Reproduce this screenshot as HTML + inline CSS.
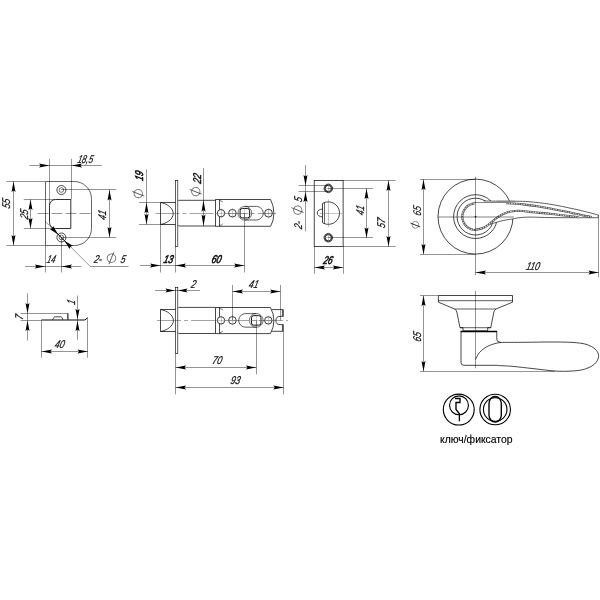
<!DOCTYPE html>
<html lang="ru">
<head>
<meta charset="utf-8">
<title>Чертёж: ручка дверная, защёлка, ключ/фиксатор</title>
<style>
html,body{margin:0;padding:0;background:#fff;}
body{width:600px;height:600px;overflow:hidden;}
svg{display:block;font-family:"Liberation Sans",sans-serif;filter:grayscale(1);}
</style>
</head>
<body>
<svg width="600" height="600" viewBox="0 0 600 600">
<rect width="600" height="600" fill="#fff"/>
<!-- strike plate front -->
<path d="M45.5,181.5 H73.75 A17.25,17.25 0 0 1 91.5,198.5 V228.5 A17,17 0 0 1 74.5,245.5 H45.5 Z" stroke="#000" stroke-width="0.612" fill="none" />
<path d="M70.8,199.5 H55.5 A6,6 0 0 0 49.5,205.5 V222.5 A6,6 0 0 0 55.5,228.5 H70.8 Z" stroke="#000" stroke-width="0.81" fill="none" />
<circle cx="61.4" cy="190" r="4.5" stroke="#000" stroke-width="0.72" fill="none" />
<circle cx="61.4" cy="190" r="2.3" stroke="#000" stroke-width="0.54" fill="none" />
<circle cx="61.4" cy="237.5" r="4.5" stroke="#000" stroke-width="0.72" fill="none" />
<circle cx="61.4" cy="237.5" r="2.3" stroke="#000" stroke-width="0.54" fill="none" />
<line x1="37.5" y1="213.5" x2="92.5" y2="213.5" stroke="#000" stroke-width="0.42" stroke-dasharray="11 3"/>
<line x1="6.25" y1="181.5" x2="45" y2="181.5" stroke="#000" stroke-width="0.42"/>
<line x1="6.25" y1="245.5" x2="45" y2="245.5" stroke="#000" stroke-width="0.42"/>
<line x1="13.5" y1="181.25" x2="13.5" y2="245.25" stroke="#000" stroke-width="0.42"/>
<polygon points="13.50,181.50 15.50,192.00 13.50,190.43 11.50,192.00" fill="#000"/>
<polygon points="13.50,245.50 11.50,235.00 13.50,236.57 15.50,235.00" fill="#000"/>
<text transform="translate(10.3,204.25) rotate(-90) skewX(-14) scale(0.76,1)" font-size="11.3" font-style="italic" text-anchor="middle" fill="#111" stroke="#111" stroke-width="0.22">55</text>
<line x1="23.75" y1="199.5" x2="55" y2="199.5" stroke="#000" stroke-width="0.42"/>
<line x1="23.75" y1="228.5" x2="55" y2="228.5" stroke="#000" stroke-width="0.42"/>
<line x1="30.5" y1="199.4" x2="30.5" y2="228.5" stroke="#000" stroke-width="0.42"/>
<polygon points="30.50,199.50 32.50,210.00 30.50,208.43 28.50,210.00" fill="#000"/>
<polygon points="30.50,228.50 28.50,218.00 30.50,219.57 32.50,218.00" fill="#000"/>
<text transform="translate(27.8,215.1) rotate(-90) skewX(-14) scale(0.76,1)" font-size="11.3" font-style="italic" text-anchor="middle" fill="#111" stroke="#111" stroke-width="0.22">25</text>
<line x1="61" y1="189.5" x2="116.25" y2="189.5" stroke="#000" stroke-width="0.42"/>
<line x1="61" y1="237.5" x2="116.25" y2="237.5" stroke="#000" stroke-width="0.42"/>
<line x1="109.5" y1="189.75" x2="109.5" y2="237.25" stroke="#000" stroke-width="0.42"/>
<polygon points="109.50,190.00 111.50,200.50 109.50,198.93 107.50,200.50" fill="#000"/>
<polygon points="109.50,237.50 107.50,227.00 109.50,228.57 111.50,227.00" fill="#000"/>
<text transform="translate(106.1,215.8) rotate(-90) skewX(-14) scale(0.76,1)" font-size="11.3" font-style="italic" text-anchor="middle" fill="#111" stroke="#111" stroke-width="0.22">41</text>
<line x1="49.5" y1="158.75" x2="49.5" y2="205" stroke="#000" stroke-width="0.42"/>
<line x1="71.5" y1="158.75" x2="71.5" y2="199.4" stroke="#000" stroke-width="0.42"/>
<line x1="29.4" y1="165.5" x2="101.9" y2="165.5" stroke="#000" stroke-width="0.42"/>
<polygon points="49.50,165.50 39.00,167.50 40.58,165.50 39.00,163.50" fill="#000"/>
<polygon points="71.50,165.50 82.00,163.50 80.42,165.50 82.00,167.50" fill="#000"/>
<text transform="translate(84.6,162.5) rotate(0) skewX(-14) scale(0.7,1)" font-size="11.3" font-style="italic" text-anchor="middle" fill="#111" stroke="#111" stroke-width="0.22">18,5</text>
<line x1="45.5" y1="245.25" x2="45.5" y2="272.5" stroke="#000" stroke-width="0.42"/>
<line x1="61.5" y1="237.25" x2="61.5" y2="272.5" stroke="#000" stroke-width="0.42"/>
<line x1="25" y1="266.5" x2="81.25" y2="266.5" stroke="#000" stroke-width="0.42"/>
<polygon points="45.30,266.50 34.80,268.50 36.38,266.50 34.80,264.50" fill="#000"/>
<polygon points="61.50,266.50 72.00,264.50 70.42,266.50 72.00,268.50" fill="#000"/>
<text transform="translate(50.6,262.5) rotate(0) skewX(-14) scale(0.68,1)" font-size="11.3" font-style="italic" text-anchor="middle" fill="#111" stroke="#111" stroke-width="0.22">14</text>
<line x1="45" y1="221.25" x2="90" y2="266.25" stroke="#000" stroke-width="0.42"/>
<line x1="90" y1="266.5" x2="128.5" y2="266.5" stroke="#000" stroke-width="0.42"/>
<polygon points="58.10,234.35 49.76,229.26 52.39,228.64 53.01,226.01" fill="#000"/>
<polygon points="64.50,240.75 72.84,245.84 70.21,246.46 69.59,249.09" fill="#000"/>
<line x1="51.5" y1="227.75" x2="71" y2="247.25" stroke="#000" stroke-width="0.9"/>
<text transform="translate(97.2,262.5) rotate(0) skewX(-14) scale(0.76,1)" font-size="11.3" font-style="italic" text-anchor="middle" fill="#111" stroke="#111" stroke-width="0.22">2-</text>
<text transform="translate(111.5,258.1) rotate(-18) translate(0,4.64)" font-family="DejaVu Sans, sans-serif" font-size="13.06" text-anchor="middle" fill="#6e6e6e">∅</text>
<line x1="108.95" y1="264.4" x2="114.05" y2="251.8" stroke="#000" stroke-width="0.4"/>
<text transform="translate(122.5,262.5) rotate(0) skewX(-14) scale(0.76,1)" font-size="11.3" font-style="italic" text-anchor="middle" fill="#111" stroke="#111" stroke-width="0.22">5</text>
<!-- latch 60 -->
<rect x="175.5" y="180.5" width="2.3" height="66" rx="0" ry="0" stroke="#000" stroke-width="0.63" fill="none"/>
<path d="M175.5,202.5 H160.5 V224.5 H175.5" stroke="#000" stroke-width="0.72" fill="none" />
<path d="M160.5,202.5 C167,203.6 173.2,208 173.2,213.5 C173.2,219 167,223.4 160.5,224.5" stroke="#000" stroke-width="0.72" fill="none" />
<path d="M178,201.2 L178.8,200.3 H215.5 M178,225.2 L178.8,226 H215.5" stroke="#000" stroke-width="0.72" fill="none" />
<path d="M215.5,199.5 H270.6 Q273.9,206 273.9,213.2 Q273.9,220.5 270.6,226.3 H215.5 Z" stroke="#000" stroke-width="0.72" fill="none" />
<line x1="219.5" y1="199.5" x2="219.5" y2="226.3" stroke="#000" stroke-width="0.7"/>
<path d="M222.8,202.2 Q222,200.6 219.8,200.6 M222.8,223.8 Q222,225.3 219.8,225.3" stroke="#000" stroke-width="0.54" fill="none" />
<line x1="155.6" y1="213.5" x2="276" y2="213.5" stroke="#333" stroke-width="0.45" stroke-dasharray="24 3 4 3"/>
<circle cx="221" cy="213.2" r="3.7" stroke="#000" stroke-width="0.765" fill="#fff" />
<line x1="216.1" y1="213.5" x2="225.9" y2="213.5" stroke="#777" stroke-width="0.4"/>
<line x1="221.5" y1="208.29999999999998" x2="221.5" y2="218.1" stroke="#777" stroke-width="0.4"/>
<circle cx="232.4" cy="213.2" r="3.8" stroke="#000" stroke-width="0.765" fill="none" />
<line x1="227.4" y1="213.5" x2="237.4" y2="213.5" stroke="#777" stroke-width="0.4"/>
<line x1="232.5" y1="208.2" x2="232.5" y2="218.2" stroke="#777" stroke-width="0.4"/>
<circle cx="268.5" cy="213.2" r="3.9" stroke="#000" stroke-width="0.765" fill="none" />
<line x1="263.4" y1="213.5" x2="273.6" y2="213.5" stroke="#777" stroke-width="0.4"/>
<line x1="268.5" y1="208.1" x2="268.5" y2="218.29999999999998" stroke="#777" stroke-width="0.4"/>
<circle cx="244.85" cy="213.2" r="6.9" stroke="#000" stroke-width="0.54" fill="none" />
<rect x="240.1" y="208.45" width="9.5" height="9.5" rx="2.2" ry="2.2" stroke="#000" stroke-width="0.945" fill="none"/>
<path d="M244.85,206.4 H256.5 A6.8,6.8 0 0 1 256.5,220 H244.85" stroke="#000" stroke-width="0.63" fill="none" />
<line x1="238.85" y1="213.5" x2="250.85" y2="213.5" stroke="#888" stroke-width="0.4"/>
<line x1="244.5" y1="207.2" x2="244.5" y2="219.2" stroke="#888" stroke-width="0.4"/>
<line x1="139" y1="202.5" x2="160.4" y2="202.5" stroke="#000" stroke-width="0.42"/>
<line x1="139" y1="224.5" x2="160.4" y2="224.5" stroke="#000" stroke-width="0.42"/>
<line x1="146.5" y1="169.4" x2="146.5" y2="224.4" stroke="#000" stroke-width="0.42"/>
<polygon points="146.50,202.50 148.50,213.20 146.50,211.59 144.50,213.20" fill="#000"/>
<polygon points="146.50,224.50 144.50,213.80 146.50,215.41 148.50,213.80" fill="#000"/>
<text transform="translate(143.1,176.5) rotate(-90) skewX(-14) scale(0.76,1)" font-size="11.3" font-style="italic" text-anchor="middle" fill="#111" stroke="#111" stroke-width="0.6">19</text>
<text transform="translate(138.1,193.6) rotate(-108) translate(0,4.54)" font-family="DejaVu Sans, sans-serif" font-size="12.78" text-anchor="middle" fill="#6e6e6e">∅</text>
<line x1="144.31" y1="196.11" x2="131.89" y2="191.09" stroke="#000" stroke-width="0.4"/>
<line x1="203.5" y1="168" x2="203.5" y2="226.1" stroke="#000" stroke-width="0.42"/>
<polygon points="203.50,200.30 205.50,211.80 203.50,210.08 201.50,211.80" fill="#000"/>
<polygon points="203.50,226.00 201.50,214.50 203.50,216.22 205.50,214.50" fill="#000"/>
<text transform="translate(200.9,179.3) rotate(-90) skewX(-14) scale(0.76,1)" font-size="11.3" font-style="italic" text-anchor="middle" fill="#111" stroke="#111" stroke-width="0.5">22</text>
<text transform="translate(195.6,191.7) rotate(-108) translate(0,4.54)" font-family="DejaVu Sans, sans-serif" font-size="12.78" text-anchor="middle" fill="#6e6e6e">∅</text>
<line x1="201.81" y1="194.21" x2="189.39" y2="189.19" stroke="#000" stroke-width="0.4"/>
<line x1="160.5" y1="224.4" x2="160.5" y2="272.5" stroke="#000" stroke-width="0.42"/>
<line x1="175.5" y1="246.25" x2="175.5" y2="272.5" stroke="#000" stroke-width="0.42"/>
<line x1="244.5" y1="213.2" x2="244.5" y2="272.5" stroke="#000" stroke-width="0.42"/>
<line x1="140" y1="265.5" x2="244.6" y2="265.5" stroke="#000" stroke-width="0.42"/>
<polygon points="160.50,265.50 150.00,267.50 151.57,265.50 150.00,263.50" fill="#000"/>
<polygon points="175.50,265.50 186.00,263.50 184.43,265.50 186.00,267.50" fill="#000"/>
<polygon points="244.60,265.50 234.10,267.50 235.67,265.50 234.10,263.50" fill="#000"/>
<text transform="translate(167.8,262.5) rotate(0) skewX(-14) scale(0.76,1)" font-size="11.3" font-style="italic" text-anchor="middle" fill="#111" stroke="#111" stroke-width="0.65">13</text>
<text transform="translate(215.8,262.5) rotate(0) skewX(-14) scale(0.76,1)" font-size="11.3" font-style="italic" text-anchor="middle" fill="#111" stroke="#111" stroke-width="0.65">60</text>
<!-- face plate -->
<rect x="314.2" y="180.4" width="28.9" height="66" rx="0" ry="0" stroke="#000" stroke-width="0.72" fill="none"/>
<circle cx="328.3" cy="188.4" r="3.65" stroke="#777" stroke-width="1.8" fill="none" />
<circle cx="328.3" cy="188.4" r="3.1" stroke="#222" stroke-width="0.81" fill="none" />
<circle cx="328.3" cy="188.4" r="4.2" stroke="#222" stroke-width="0.81" fill="none" stroke-dasharray="1.6 0.6"/>
<line x1="323.1" y1="188.5" x2="333.5" y2="188.5" stroke="#777" stroke-width="0.4"/>
<line x1="328.5" y1="183.20000000000002" x2="328.5" y2="193.6" stroke="#777" stroke-width="0.4"/>
<circle cx="328.3" cy="237.7" r="3.65" stroke="#777" stroke-width="1.8" fill="none" />
<circle cx="328.3" cy="237.7" r="3.1" stroke="#222" stroke-width="0.81" fill="none" />
<circle cx="328.3" cy="237.7" r="4.2" stroke="#222" stroke-width="0.81" fill="none" stroke-dasharray="1.6 0.6"/>
<line x1="323.1" y1="237.5" x2="333.5" y2="237.5" stroke="#777" stroke-width="0.4"/>
<line x1="328.5" y1="232.5" x2="328.5" y2="242.89999999999998" stroke="#777" stroke-width="0.4"/>
<path d="M322.5,203.4 A11.3,11.3 0 1 1 322.5,222.8 Z" stroke="#000" stroke-width="0.72" fill="none" />
<line x1="324.5" y1="202.6" x2="324.5" y2="223.6" stroke="#000" stroke-width="0.6"/>
<path d="M322.5,209.1 A5.3,3.9 0 1 0 322.5,216.9" stroke="#000" stroke-width="0.72" fill="none" />
<line x1="328.5" y1="199.5" x2="328.5" y2="227" stroke="#666" stroke-width="0.4"/>
<line x1="320" y1="213.5" x2="342" y2="213.5" stroke="#666" stroke-width="0.4"/>
<line x1="298.5" y1="185.5" x2="328" y2="185.5" stroke="#000" stroke-width="0.42"/>
<line x1="298.5" y1="191.5" x2="328" y2="191.5" stroke="#000" stroke-width="0.42"/>
<line x1="305.5" y1="165" x2="305.5" y2="231.25" stroke="#000" stroke-width="0.42"/>
<polygon points="305.50,185.50 303.50,175.00 305.50,176.57 307.50,175.00" fill="#000"/>
<polygon points="305.50,191.50 307.50,202.00 305.50,200.43 303.50,202.00" fill="#000"/>
<text transform="translate(302.0,200.0) rotate(-90) skewX(-14) scale(0.76,1)" font-size="11.3" font-style="italic" text-anchor="middle" fill="#111" stroke="#111" stroke-width="0.22">5</text>
<text transform="translate(297.6,210) rotate(-108) translate(0,4.54)" font-family="DejaVu Sans, sans-serif" font-size="12.78" text-anchor="middle" fill="#6e6e6e">∅</text>
<line x1="303.81" y1="212.51" x2="291.39" y2="207.49" stroke="#000" stroke-width="0.4"/>
<text transform="translate(302.0,225.8) rotate(-90) skewX(-14) scale(0.76,1)" font-size="11.3" font-style="italic" text-anchor="middle" fill="#111" stroke="#111" stroke-width="0.22">2-</text>
<line x1="328.4" y1="188.5" x2="373" y2="188.5" stroke="#000" stroke-width="0.42"/>
<line x1="328.4" y1="237.5" x2="373" y2="237.5" stroke="#000" stroke-width="0.42"/>
<line x1="366.5" y1="188.5" x2="366.5" y2="237.75" stroke="#000" stroke-width="0.42"/>
<polygon points="366.50,188.50 368.50,199.00 366.50,197.43 364.50,199.00" fill="#000"/>
<polygon points="366.50,238.00 364.50,227.50 366.50,229.07 368.50,227.50" fill="#000"/>
<text transform="translate(363.5,211.1) rotate(-90) skewX(-14) scale(0.76,1)" font-size="11.3" font-style="italic" text-anchor="middle" fill="#111" stroke="#111" stroke-width="0.22">41</text>
<line x1="343.1" y1="180.5" x2="395.6" y2="180.5" stroke="#000" stroke-width="0.42"/>
<line x1="343.1" y1="246.5" x2="395.6" y2="246.5" stroke="#000" stroke-width="0.42"/>
<line x1="388.5" y1="180.25" x2="388.5" y2="246.25" stroke="#000" stroke-width="0.42"/>
<polygon points="388.50,180.50 390.50,191.00 388.50,189.43 386.50,191.00" fill="#000"/>
<polygon points="388.50,246.50 386.50,236.00 388.50,237.57 390.50,236.00" fill="#000"/>
<text transform="translate(385.4,223.8) rotate(-90) skewX(-14) scale(0.76,1)" font-size="11.3" font-style="italic" text-anchor="middle" fill="#111" stroke="#111" stroke-width="0.22">57</text>
<line x1="314.5" y1="246.25" x2="314.5" y2="273.75" stroke="#000" stroke-width="0.42"/>
<line x1="343.5" y1="246.25" x2="343.5" y2="273.75" stroke="#000" stroke-width="0.42"/>
<line x1="314.4" y1="267.5" x2="343.1" y2="267.5" stroke="#000" stroke-width="0.42"/>
<polygon points="314.50,267.50 325.00,265.50 323.43,267.50 325.00,269.50" fill="#000"/>
<polygon points="343.30,267.50 332.80,269.50 334.38,267.50 332.80,265.50" fill="#000"/>
<text transform="translate(327.3,263.75) rotate(0) skewX(-14) scale(0.74,1)" font-size="11.3" font-style="italic" text-anchor="middle" fill="#111" stroke="#111" stroke-width="0.6">26</text>
<!-- handle top view -->
<circle cx="475.5" cy="216.6" r="37.5" stroke="#000" stroke-width="0.72" fill="none" />
<circle cx="475.5" cy="216.6" r="21.9" stroke="#000" stroke-width="0.72" fill="none" />
<circle cx="475.5" cy="216.6" r="18.4" stroke="#000" stroke-width="0.72" fill="none" />
<path d="M483.50,201.00 C486.25,201.03 494.47,201.16 500.00,201.20 C505.53,201.24 511.87,201.17 516.70,201.25 C521.53,201.33 523.45,201.21 529.00,201.70 C534.55,202.19 542.33,202.95 550.00,204.20 C557.67,205.45 567.22,207.47 575.00,209.20 C582.78,210.93 592.82,213.53 596.70,214.60 C600.58,215.67 598.03,215.43 598.30,215.60 L598.30,217.70 C594.42,217.70 583.05,217.72 575.00,217.70 C566.95,217.68 557.50,217.70 550.00,217.60 C542.50,217.50 535.21,217.07 530.00,217.10 C524.79,217.12 521.62,217.45 518.75,217.75 C515.88,218.05 515.25,218.46 512.75,218.90 C510.25,219.34 506.50,219.82 503.75,220.40 C501.00,220.98 498.12,221.88 496.25,222.40 C494.38,222.92 493.71,223.13 492.50,223.50 C491.29,223.87 489.58,224.42 489.00,224.60 L478,216 Z" stroke="none" stroke-width="0.0" fill="#fff" />
<path d="M483.50,201.00 C486.25,201.03 494.47,201.16 500.00,201.20 C505.53,201.24 511.87,201.17 516.70,201.25 C521.53,201.33 523.45,201.21 529.00,201.70 C534.55,202.19 542.33,202.95 550.00,204.20 C557.67,205.45 567.22,207.47 575.00,209.20 C582.78,210.93 592.82,213.53 596.70,214.60 C600.58,215.67 598.03,215.43 598.30,215.60" stroke="#000" stroke-width="0.63" fill="none" />
<path d="M598.3,215.6 V217.7" stroke="#000" stroke-width="0.81" fill="none" />
<path d="M598.30,217.70 C594.42,217.70 583.05,217.72 575.00,217.70 C566.95,217.68 557.50,217.70 550.00,217.60 C542.50,217.50 535.21,217.07 530.00,217.10 C524.79,217.12 521.62,217.45 518.75,217.75 C515.88,218.05 515.25,218.46 512.75,218.90 C510.25,219.34 506.50,219.82 503.75,220.40 C501.00,220.98 498.12,221.88 496.25,222.40 C494.38,222.92 493.71,223.13 492.50,223.50 C491.29,223.87 489.58,224.42 489.00,224.60" stroke="#000" stroke-width="0.63" fill="none" />
<path d="M474.35,203.55 C473.81,203.67 472.15,203.89 471.11,204.25 C470.08,204.61 469.06,205.13 468.15,205.74 C467.24,206.35 466.38,207.09 465.65,207.91 C464.92,208.73 464.28,209.67 463.77,210.64 C463.27,211.61 462.88,212.68 462.63,213.75 C462.39,214.82 462.28,215.95 462.30,217.05 C462.33,218.14 462.51,219.27 462.81,220.32 C463.11,221.37 463.55,222.42 464.11,223.37 C464.66,224.31 465.35,225.22 466.13,225.99 C466.90,226.77 467.79,227.47 468.73,228.03 C469.68,228.60 470.72,229.05 471.77,229.36 C472.82,229.67 472.97,230.20 475.04,229.89 C477.11,229.58 481.71,228.60 484.20,227.50 C486.69,226.40 487.92,224.90 490.00,223.30 C492.08,221.70 494.75,219.33 496.70,217.90 C498.65,216.47 499.90,215.65 501.70,214.70 C503.50,213.75 505.28,212.82 507.50,212.20 C509.72,211.58 512.50,211.20 515.00,211.00 C517.50,210.80 520.00,210.85 522.50,211.00 C525.00,211.15 527.50,211.63 530.00,211.90 C532.50,212.17 534.17,212.28 537.50,212.60 C540.83,212.92 545.13,213.27 550.00,213.80 C554.87,214.33 561.87,215.22 566.70,215.80 C571.53,216.38 576.95,217.05 579.00,217.30" stroke="#4a4a4a" stroke-width="2.16" fill="none" />
<path d="M474.35,203.55 C473.81,203.67 472.15,203.89 471.11,204.25 C470.08,204.61 469.06,205.13 468.15,205.74 C467.24,206.35 466.38,207.09 465.65,207.91 C464.92,208.73 464.28,209.67 463.77,210.64 C463.27,211.61 462.88,212.68 462.63,213.75 C462.39,214.82 462.28,215.95 462.30,217.05 C462.33,218.14 462.51,219.27 462.81,220.32 C463.11,221.37 463.55,222.42 464.11,223.37 C464.66,224.31 465.35,225.22 466.13,225.99 C466.90,226.77 467.79,227.47 468.73,228.03 C469.68,228.60 470.72,229.05 471.77,229.36 C472.82,229.67 472.97,230.20 475.04,229.89 C477.11,229.58 481.71,228.60 484.20,227.50 C486.69,226.40 487.92,224.90 490.00,223.30 C492.08,221.70 494.75,219.33 496.70,217.90 C498.65,216.47 499.90,215.65 501.70,214.70 C503.50,213.75 505.28,212.82 507.50,212.20 C509.72,211.58 512.50,211.20 515.00,211.00 C517.50,210.80 520.00,210.85 522.50,211.00 C525.00,211.15 527.50,211.63 530.00,211.90 C532.50,212.17 534.17,212.28 537.50,212.60 C540.83,212.92 545.13,213.27 550.00,213.80 C554.87,214.33 561.87,215.22 566.70,215.80 C571.53,216.38 576.95,217.05 579.00,217.30" stroke="#d8d8d8" stroke-width="1.08" fill="none" stroke-dasharray="1.7 0.8"/>
<path d="M506.00,203.20 C507.67,203.28 512.83,203.47 516.00,203.70 C519.17,203.93 521.42,204.17 525.00,204.60 C528.58,205.03 533.33,205.60 537.50,206.25 C541.67,206.90 545.13,207.59 550.00,208.50 C554.87,209.41 561.15,210.52 566.70,211.70 C572.25,212.88 579.08,214.72 583.30,215.60 C587.52,216.48 590.55,216.77 592.00,217.00" stroke="#4a4a4a" stroke-width="2.07" fill="none" />
<path d="M506.00,203.20 C507.67,203.28 512.83,203.47 516.00,203.70 C519.17,203.93 521.42,204.17 525.00,204.60 C528.58,205.03 533.33,205.60 537.50,206.25 C541.67,206.90 545.13,207.59 550.00,208.50 C554.87,209.41 561.15,210.52 566.70,211.70 C572.25,212.88 579.08,214.72 583.30,215.60 C587.52,216.48 590.55,216.77 592.00,217.00" stroke="#d8d8d8" stroke-width="0.99" fill="none" stroke-dasharray="1.7 0.8"/>
<line x1="473.5" y1="202.5" x2="506" y2="202.5" stroke="#333" stroke-width="0.6"/>
<line x1="497" y1="201.5" x2="515" y2="201.5" stroke="#8a8a8a" stroke-width="1.6"/>
<line x1="475.5" y1="176.7" x2="475.5" y2="275" stroke="#000" stroke-width="0.42"/>
<line x1="438" y1="217.0" x2="514" y2="217.0" stroke="#000" stroke-width="0.5"/>
<circle cx="475.5" cy="216.6" r="0.7" stroke="#000" stroke-width="0.27" fill="#000" />
<line x1="420" y1="179.5" x2="475.5" y2="179.5" stroke="#000" stroke-width="0.42"/>
<line x1="420" y1="254.5" x2="475.5" y2="254.5" stroke="#000" stroke-width="0.42"/>
<line x1="423.5" y1="179.2" x2="423.5" y2="254.2" stroke="#000" stroke-width="0.42"/>
<polygon points="423.50,179.50 425.50,190.00 423.50,188.43 421.50,190.00" fill="#000"/>
<polygon points="423.50,254.50 421.50,244.00 423.50,245.57 425.50,244.00" fill="#000"/>
<text transform="translate(420.8,211.5) rotate(-90) skewX(-14) scale(0.76,1)" font-size="11.3" font-style="italic" text-anchor="middle" fill="#111" stroke="#111" stroke-width="0.1">65</text>
<text transform="translate(415.3,225) rotate(-108) translate(0,3.65)" font-family="DejaVu Sans, sans-serif" font-size="10.28" text-anchor="middle" fill="#6e6e6e">∅</text>
<line x1="420.21" y1="226.99" x2="410.39" y2="223.01" stroke="#000" stroke-width="0.7"/>
<line x1="598.5" y1="218" x2="598.5" y2="277" stroke="#000" stroke-width="0.42"/>
<line x1="475.5" y1="272.5" x2="598.7" y2="272.5" stroke="#000" stroke-width="0.42"/>
<polygon points="475.50,272.50 486.00,270.50 484.43,272.50 486.00,274.50" fill="#000"/>
<polygon points="598.90,272.50 588.40,274.50 589.98,272.50 588.40,270.50" fill="#000"/>
<text transform="translate(532.3,269.5) rotate(0) skewX(-14) scale(0.76,1)" font-size="11.3" font-style="italic" text-anchor="middle" fill="#111" stroke="#111" stroke-width="0.22">110</text>
<!-- strike plate side -->
<path d="M41.5,320 H84.3 Q86.5,319.6 87.4,317.5" stroke="#000" stroke-width="0.99" fill="none" />
<path d="M67.9,313.2 V319.8" stroke="#000" stroke-width="1.08" fill="none" />
<path d="M52.5,319.8 L54,317.3 Q54.4,316.8 55.2,316.8 H60.6 Q61.4,316.8 61.8,317.3 L63,319.8" stroke="#000" stroke-width="0.72" fill="none" />
<line x1="20.5" y1="313.5" x2="67.75" y2="313.5" stroke="#000" stroke-width="0.42"/>
<line x1="20.5" y1="320.5" x2="41.5" y2="320.5" stroke="#000" stroke-width="0.42"/>
<line x1="27.5" y1="293.25" x2="27.5" y2="340.5" stroke="#000" stroke-width="0.42"/>
<polygon points="27.50,313.50 25.50,303.00 27.50,304.57 29.50,303.00" fill="#000"/>
<polygon points="27.50,320.50 29.50,331.00 27.50,329.43 25.50,331.00" fill="#000"/>
<text transform="translate(23.3,317.8) rotate(-90) skewX(-14) scale(0.76,1)" font-size="11.3" font-style="italic" text-anchor="middle" fill="#111" stroke="#111" stroke-width="0.22">7</text>
<line x1="77.5" y1="295.5" x2="77.5" y2="339.75" stroke="#000" stroke-width="0.42"/>
<polygon points="77.50,319.30 75.50,308.80 77.50,310.38 79.50,308.80" fill="#000"/>
<polygon points="77.50,320.70 79.50,331.20 77.50,329.62 75.50,331.20" fill="#000"/>
<text transform="translate(74.9,302.8) rotate(-90) skewX(-14) scale(0.76,1)" font-size="11.3" font-style="italic" text-anchor="middle" fill="#111" stroke="#111" stroke-width="0.22">1</text>
<line x1="41.5" y1="319.8" x2="41.5" y2="357.75" stroke="#000" stroke-width="0.42"/>
<line x1="87.5" y1="318" x2="87.5" y2="357.75" stroke="#000" stroke-width="0.42"/>
<line x1="41.5" y1="351.5" x2="87.7" y2="351.5" stroke="#000" stroke-width="0.42"/>
<polygon points="41.50,351.50 52.00,349.50 50.42,351.50 52.00,353.50" fill="#000"/>
<polygon points="88.00,351.50 77.50,353.50 79.08,351.50 77.50,349.50" fill="#000"/>
<text transform="translate(59,347.8) rotate(0) skewX(-14) scale(0.76,1)" font-size="11.3" font-style="italic" text-anchor="middle" fill="#111" stroke="#111" stroke-width="0.22">40</text>
<!-- latch 70 -->
<rect x="175.5" y="287.5" width="2.3" height="66" rx="0" ry="0" stroke="#000" stroke-width="0.63" fill="none"/>
<path d="M175.5,309.5 H160.5 V331.5 H175.5" stroke="#000" stroke-width="0.72" fill="none" />
<path d="M160.5,309.5 C167,310.6 173.4,315 173.4,320.5 C173.4,326 167,330.4 160.5,331.5" stroke="#000" stroke-width="0.72" fill="none" />
<path d="M178,308.2 L178.8,307.4 H215.5 M178,332.7 L178.8,333.5 H215.5" stroke="#000" stroke-width="0.72" fill="none" />
<path d="M215.5,307.5 H270.4 Q273.9,313.5 273.9,320.5 Q273.9,327.5 270.4,333.6 H215.5 Z" stroke="#000" stroke-width="0.72" fill="none" />
<line x1="219.5" y1="307.5" x2="219.5" y2="333.6" stroke="#000" stroke-width="0.7"/>
<path d="M222.8,310.2 Q222,308.6 219.8,308.6 M222.8,331 Q222,332.6 219.8,332.6" stroke="#000" stroke-width="0.54" fill="none" />
<path d="M271.6,309.6 H283.3 V316.4 H280 A4.1,4.1 0 0 0 280,324.6 H283.3 V331.3 H271.6" stroke="#000" stroke-width="0.72" fill="none" />
<line x1="282.5" y1="309.6" x2="282.5" y2="316.4" stroke="#555" stroke-width="1.2"/>
<line x1="282.5" y1="324.6" x2="282.5" y2="331.3" stroke="#555" stroke-width="1.2"/>
<line x1="157" y1="320.5" x2="288" y2="320.5" stroke="#333" stroke-width="0.45" stroke-dasharray="24 3 4 3"/>
<circle cx="221" cy="320.4" r="3.7" stroke="#000" stroke-width="0.765" fill="#fff" />
<line x1="216.1" y1="320.5" x2="225.9" y2="320.5" stroke="#777" stroke-width="0.4"/>
<line x1="221.5" y1="315.5" x2="221.5" y2="325.29999999999995" stroke="#777" stroke-width="0.4"/>
<circle cx="232.4" cy="320.4" r="3.8" stroke="#000" stroke-width="0.765" fill="none" />
<line x1="227.4" y1="320.5" x2="237.4" y2="320.5" stroke="#777" stroke-width="0.4"/>
<line x1="232.5" y1="315.4" x2="232.5" y2="325.4" stroke="#777" stroke-width="0.4"/>
<circle cx="268.3" cy="320.4" r="3.7" stroke="#000" stroke-width="0.765" fill="none" />
<line x1="263.40000000000003" y1="320.5" x2="273.2" y2="320.5" stroke="#777" stroke-width="0.4"/>
<line x1="268.5" y1="315.5" x2="268.5" y2="325.29999999999995" stroke="#777" stroke-width="0.4"/>
<circle cx="256.25" cy="320.4" r="6.9" stroke="#000" stroke-width="0.54" fill="none" />
<rect x="251.5" y="315.65" width="9.5" height="9.5" rx="2.2" ry="2.2" stroke="#000" stroke-width="0.945" fill="none"/>
<path d="M256.25,313.6 H245.5 A6.8,6.8 0 0 0 245.5,327.2 H256.25" stroke="#000" stroke-width="0.63" fill="none" />
<line x1="250.25" y1="320.5" x2="262.25" y2="320.5" stroke="#888" stroke-width="0.4"/>
<line x1="256.5" y1="314.4" x2="256.5" y2="326.4" stroke="#888" stroke-width="0.4"/>
<line x1="155" y1="290.5" x2="200" y2="290.5" stroke="#000" stroke-width="0.42"/>
<polygon points="175.00,290.50 165.50,292.50 166.93,290.50 165.50,288.50" fill="#000"/>
<polygon points="178.00,290.50 187.50,288.50 186.07,290.50 187.50,292.50" fill="#000"/>
<text transform="translate(192.8,287.5) rotate(0) skewX(-14) scale(0.76,1)" font-size="11.3" font-style="italic" text-anchor="middle" fill="#111" stroke="#111" stroke-width="0.22">2</text>
<line x1="232.5" y1="285" x2="232.5" y2="320" stroke="#000" stroke-width="0.42"/>
<line x1="280.5" y1="285" x2="280.5" y2="320.4" stroke="#000" stroke-width="0.42"/>
<line x1="232.5" y1="291.5" x2="280.4" y2="291.5" stroke="#000" stroke-width="0.42"/>
<polygon points="232.50,291.50 243.00,289.50 241.43,291.50 243.00,293.50" fill="#000"/>
<polygon points="280.60,291.50 270.10,293.50 271.68,291.50 270.10,289.50" fill="#000"/>
<text transform="translate(253,288) rotate(0) skewX(-14) scale(0.76,1)" font-size="11.3" font-style="italic" text-anchor="middle" fill="#111" stroke="#111" stroke-width="0.22">41</text>
<line x1="175.5" y1="353.5" x2="175.5" y2="394.4" stroke="#000" stroke-width="0.42"/>
<line x1="256.5" y1="320.35" x2="256.5" y2="374.4" stroke="#000" stroke-width="0.42"/>
<line x1="283.5" y1="331.25" x2="283.5" y2="394.4" stroke="#000" stroke-width="0.42"/>
<line x1="175.6" y1="367.5" x2="256.25" y2="367.5" stroke="#000" stroke-width="0.42"/>
<polygon points="175.60,367.50 186.10,365.50 184.53,367.50 186.10,369.50" fill="#000"/>
<polygon points="256.40,367.50 245.90,369.50 247.47,367.50 245.90,365.50" fill="#000"/>
<line x1="175.6" y1="387.5" x2="283.6" y2="387.5" stroke="#000" stroke-width="0.42"/>
<polygon points="175.60,387.50 186.10,385.50 184.53,387.50 186.10,389.50" fill="#000"/>
<polygon points="283.80,387.50 273.30,389.50 274.88,387.50 273.30,385.50" fill="#000"/>
<text transform="translate(216.5,364.4) rotate(0) skewX(-14) scale(0.76,1)" font-size="11.3" font-style="italic" text-anchor="middle" fill="#111" stroke="#111" stroke-width="0.22">70</text>
<text transform="translate(234.8,384.4) rotate(0) skewX(-14) scale(0.76,1)" font-size="11.3" font-style="italic" text-anchor="middle" fill="#111" stroke="#111" stroke-width="0.22">93</text>
<!-- handle side view -->
<path d="M438.4,295.5 H512.5 V302.2 L496,309 Q494.2,310.2 493.7,312.8 L490.8,327.7 H487.7 V330.8 H463 V327.7 H460 L457,312.8 Q456.5,310.2 454.7,309 L438.4,302.2 Z" stroke="#000" stroke-width="0.72" fill="none" />
<path d="M438.4,300.7 H512.5 M454.7,309 H496 M460,327.7 H490.8" stroke="#000" stroke-width="0.63" fill="none" />
<path d="M461,331.5 V362.5 Q461,365.3 464,365.3 H497.5 L497.50,365.50 C500.08,365.65 507.08,365.88 513.00,366.40 C518.92,366.92 525.50,367.80 533.00,368.60 C540.50,369.40 550.50,370.88 558.00,371.20 C565.50,371.52 572.83,371.12 578.00,370.50 C583.17,369.88 586.00,368.83 589.00,367.50 C592.00,366.17 594.40,364.50 596.00,362.50 C597.60,360.50 598.77,357.75 598.60,355.50 C598.43,353.25 597.10,350.87 595.00,349.00 C592.90,347.13 589.83,345.40 586.00,344.30 C582.17,343.20 578.00,342.78 572.00,342.40 C566.00,342.02 557.83,342.02 550.00,342.00 C542.17,341.98 533.25,342.23 525.00,342.30 C516.75,342.37 504.58,342.38 500.50,342.40 Q496.8,342 496.8,339.5 V331.5" stroke="#000" stroke-width="0.72" fill="none" />
<path d="M460.6,331.5 H497.1" stroke="#000" stroke-width="1.26" fill="none" />
<path d="M475.40,359.50 C476.08,358.33 477.57,354.65 479.50,352.50 C481.43,350.35 484.25,348.13 487.00,346.60 C489.75,345.07 493.67,343.98 496.00,343.30 C498.33,342.62 500.17,342.63 501.00,342.50" stroke="#000" stroke-width="0.72" fill="none" />
<line x1="475.5" y1="290.8" x2="475.5" y2="368.3" stroke="#000" stroke-width="0.42"/>
<line x1="420" y1="295.5" x2="438.3" y2="295.5" stroke="#000" stroke-width="0.42"/>
<line x1="420" y1="371.5" x2="555" y2="371.5" stroke="#000" stroke-width="0.42"/>
<line x1="423.5" y1="295.8" x2="423.5" y2="371.3" stroke="#000" stroke-width="0.42"/>
<polygon points="423.50,295.50 425.50,306.00 423.50,304.43 421.50,306.00" fill="#000"/>
<polygon points="423.50,371.50 421.50,361.00 423.50,362.57 425.50,361.00" fill="#000"/>
<text transform="translate(421.3,337.5) rotate(-90) skewX(-14) scale(0.76,1)" font-size="11.3" font-style="italic" text-anchor="middle" fill="#111" stroke="#111" stroke-width="0.22">65</text>
<!-- icons -->
<circle cx="458.75" cy="409.6" r="15.45" stroke="#000" stroke-width="1.125" fill="none" />
<circle cx="459" cy="405.3" r="9.45" stroke="#000" stroke-width="1.125" fill="none" />
<path d="M455,398.5 H460 V402.5 H456 V409.4 L459.4,413.75 V421.25" stroke="#000" stroke-width="1.35" fill="none" />
<circle cx="495.2" cy="409.5" r="15.3" stroke="#000" stroke-width="1.125" fill="none" />
<circle cx="495.2" cy="409.5" r="11.75" stroke="#000" stroke-width="1.125" fill="none" />
<rect x="489" y="396.5" width="12.3" height="25.6" rx="6.15" ry="7" stroke="#000" stroke-width="1.35" fill="none"/>
<text x="476.3" y="442.6" font-size="10.4" text-anchor="middle" fill="#000" stroke="#000" stroke-width="0.15">ключ/фиксатор</text>
</svg>
</body>
</html>
